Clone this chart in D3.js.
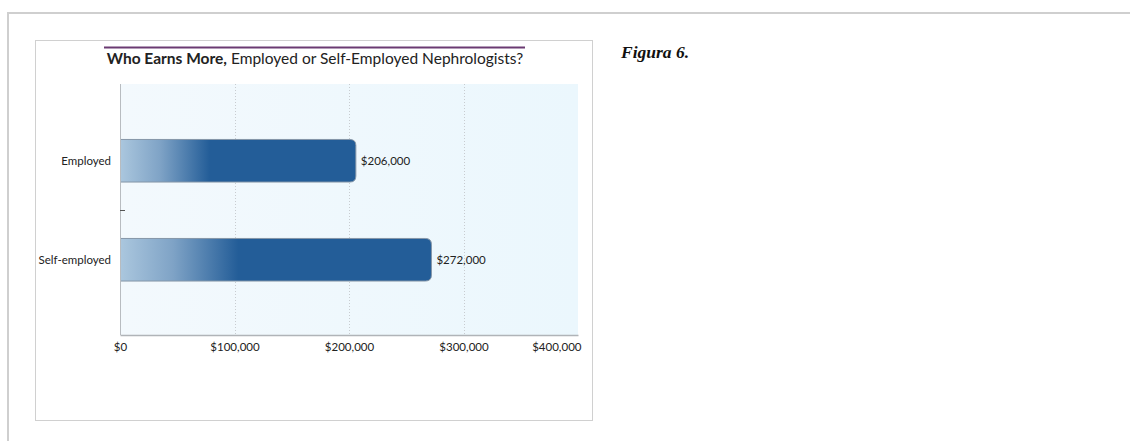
<!DOCTYPE html>
<html>
<head>
<meta charset="utf-8">
<script src="https://cdn.jsdelivr.net/npm/d3@7"></script>
<style>
  html, body { margin: 0; padding: 0; background: #fff; }
  svg { display: block; }
</style>
</head>
<body>
<svg id="chart" width="1130" height="441"></svg>
<script>
const categories = ["Employed", "Self-employed"];
const values = [206000, 272000];
const valueLabels = ["$206,000", "$272,000"];
const tickValues = [0, 100000, 200000, 300000, 400000];
const tickLabels = ["$0", "$100,000", "$200,000", "$300,000", "$400,000"];
const titleBold = "Who Earns More,";
const titleRest = " Employed or Self-Employed Nephrologists?";
const figureLabel = "Figura 6.";

const svg = d3.select("#chart");
const font = "Lato, 'Open Sans', sans-serif";

// outer page frame
svg.append("line").attr("x1", 7).attr("x2", 1130).attr("y1", 13).attr("y2", 13)
  .attr("stroke", "#cfcfcf").attr("stroke-width", 2);
svg.append("line").attr("x1", 8).attr("x2", 8).attr("y1", 12).attr("y2", 441)
  .attr("stroke", "#cfcfcf").attr("stroke-width", 2);

// inner chart box
svg.append("rect").attr("x", 35.5).attr("y", 40.5).attr("width", 557).attr("height", 380)
  .attr("fill", "#fff").attr("stroke", "#d0d0d0").attr("stroke-width", 1);

// figure label
svg.append("text").attr("x", 621).attr("y", 58)
  .attr("font-family", "'Liberation Serif', 'DejaVu Serif', serif")
  .attr("font-style", "italic").attr("font-weight", "bold")
  .attr("font-size", 17.5).attr("fill", "#111").text(figureLabel);

// title
svg.append("line").attr("x1", 104).attr("x2", 525).attr("y1", 47.5).attr("y2", 47.5)
  .attr("stroke", "#6b3a72").attr("stroke-width", 2);
const title = svg.append("text").attr("x", 315).attr("y", 64).attr("text-anchor", "middle")
  .attr("font-family", font).attr("font-size", 15.5).attr("fill", "#222");
title.append("tspan").attr("font-weight", "bold").text(titleBold);
title.append("tspan").text(titleRest);

// plot area
const plot = { left: 120, right: 578, top: 84, bottom: 335 };
const x = d3.scaleLinear().domain([0, 400000]).range([plot.left, plot.right]);
const y = d3.scaleBand().domain(categories).range([111, 309]).paddingInner(0.565).paddingOuter(0.2825);

const defs = svg.append("defs");
const bg = defs.append("linearGradient").attr("id", "bg").attr("x1", 0).attr("x2", 1).attr("y1", 0).attr("y2", 0);
bg.append("stop").attr("offset", "0%").attr("stop-color", "#f3f9fd");
bg.append("stop").attr("offset", "100%").attr("stop-color", "#ebf7fd");

svg.append("rect").attr("x", plot.left).attr("y", plot.top)
  .attr("width", plot.right - plot.left).attr("height", plot.bottom - plot.top)
  .attr("fill", "url(#bg)");

// gridlines
svg.append("g").selectAll("line").data(tickValues.slice(1, 4)).join("line")
  .attr("x1", d => Math.round(x(d)) + 0.5).attr("x2", d => Math.round(x(d)) + 0.5)
  .attr("y1", plot.top).attr("y2", plot.bottom)
  .attr("stroke", "#c8ccd0").attr("stroke-width", 1).attr("stroke-dasharray", "1,2");

// bars with gradient per bar
values.forEach((v, i) => {
  const g = defs.append("linearGradient").attr("id", "bar" + i)
    .attr("gradientUnits", "userSpaceOnUse")
    .attr("x1", x(0)).attr("x2", x(v)).attr("y1", 0).attr("y2", 0);
  g.append("stop").attr("offset", "0%").attr("stop-color", "#abc7de");
  g.append("stop").attr("offset", "17%").attr("stop-color", "#7fa3c6");
  g.append("stop").attr("offset", "38%").attr("stop-color", "#235d98");
  g.append("stop").attr("offset", "100%").attr("stop-color", "#235d98");
});

const r = 6;
svg.append("g").selectAll("path").data(categories).join("path")
  .attr("d", (c, i) => {
    const x0 = x(0) + 0.5, x1 = x(values[i]), y0 = y(c) + 0.5, y1 = y(c) + y.bandwidth();
    return `M${x0},${y0}H${x1 - r}Q${x1},${y0} ${x1},${y0 + r}V${y1 - r}Q${x1},${y1} ${x1 - r},${y1}H${x0}Z`;
  })
  .attr("fill", (c, i) => `url(#bar${i})`)
  .attr("stroke", "#8596a8").attr("stroke-width", 1);

// value labels
svg.append("g").selectAll("text").data(categories).join("text")
  .attr("x", (c, i) => x(values[i]) + 5)
  .attr("y", c => y(c) + y.bandwidth() / 2 + 4)
  .attr("font-family", font).attr("font-size", 11.5).attr("fill", "#222")
  .text((c, i) => valueLabels[i]);

// y axis
const yAxis = svg.append("g").attr("transform", `translate(${plot.left},0)`);
yAxis.append("line").attr("x1", 0.5).attr("x2", 0.5).attr("y1", plot.top).attr("y2", plot.bottom)
  .attr("stroke", "#b8bcc0");
const midY = (y(categories[0]) + y.bandwidth() + y(categories[1])) / 2 + 0.5;
yAxis.append("line").attr("x1", 0).attr("x2", 5).attr("y1", midY).attr("y2", midY)
  .attr("stroke", "#555");
yAxis.selectAll("text").data(categories).join("text")
  .attr("x", -9).attr("y", c => y(c) + y.bandwidth() / 2 + 4)
  .attr("text-anchor", "end").attr("font-family", font).attr("font-size", 11.5).attr("fill", "#222")
  .text(c => c);

// x axis
const xAxis = svg.append("g").attr("transform", `translate(0,${plot.bottom})`)
  .call(d3.axisBottom(x).tickValues(tickValues).tickSize(0).tickPadding(8)
    .tickFormat((d, i) => tickLabels[i]));
xAxis.select(".domain").attr("stroke", "#b0b4b8").attr("stroke-width", 1.5);
xAxis.selectAll("text").attr("font-family", font).attr("font-size", 11.5).attr("fill", "#222");
xAxis.selectAll(".tick").filter(d => d === 400000).select("text")
  .attr("text-anchor", "end").attr("x", 3);
</script>
</body>
</html>
